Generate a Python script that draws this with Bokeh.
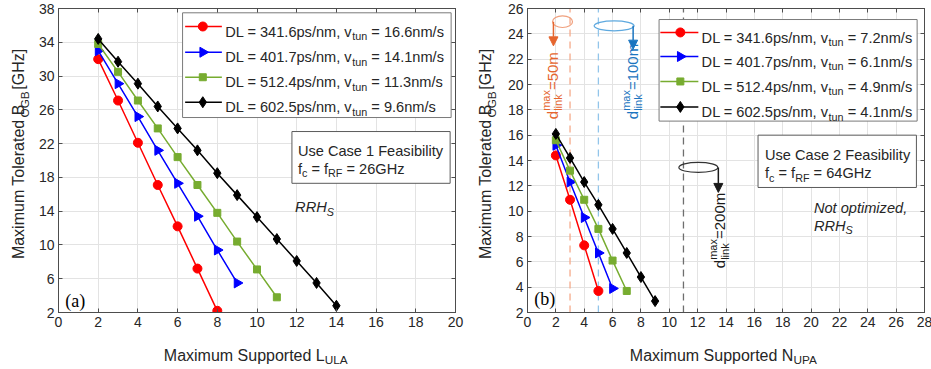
import numpy as np
from bokeh.plotting import figure
from bokeh.models import Label, Arrow, NormalHead, Range1d, FixedTicker, LinearAxis
from bokeh.layouts import row, column
from bokeh.embed import file_html
from bokeh.resources import INLINE

# ---------------- data ----------------
# (a) Use case 1
L_ula_341 = [2, 3, 4, 5, 6, 7, 8]
B_ogb_341 = [32.0, 27.1, 22.1, 17.1, 12.2, 7.2, 2.2]
L_ula_401 = [2, 3, 4, 5, 6, 7, 8, 9]
B_ogb_401 = [33.0, 29.1, 25.2, 21.2, 17.3, 13.4, 9.4, 5.5]
L_ula_512 = [2, 3, 4, 5, 6, 7, 8, 9, 10, 11]
B_ogb_512 = [33.8, 30.5, 27.1, 23.8, 20.4, 17.1, 13.8, 10.4, 7.1, 3.8]
L_ula_602 = [2, 3, 4, 5, 6, 7, 8, 9, 10, 11, 12, 13, 14]
B_ogb_602 = [34.4, 31.7, 29.1, 26.4, 23.8, 21.2, 18.5, 15.9, 13.3, 10.7, 8.1, 5.5, 2.8]

# (b) Use case 2
N_upa_341 = [2, 3, 4, 5]
Bb_ogb_341 = [14.4, 10.9, 7.3, 3.7]
N_upa_401 = [2, 3, 4, 5, 6]
Bb_ogb_401 = [15.2, 12.3, 9.5, 6.7, 3.9]
N_upa_512 = [2, 3, 4, 5, 6, 7]
Bb_ogb_512 = [15.6, 13.2, 10.9, 8.6, 6.1, 3.7]
N_upa_602 = [2, 3, 4, 5, 6, 7, 8, 9]
Bb_ogb_602 = [16.1, 14.2, 12.3, 10.5, 8.6, 6.7, 4.8, 2.9]

DL = ["341.6", "401.7", "512.4", "602.5"]
vtun_a = ["16.6", "14.1", "11.3", "9.6"]
vtun_b = ["7.2", "6.1", "4.9", "4.1"]

# d_link^max thresholds (N_UPA)
dlink_x = [3, 5, 11]
dlink_txt = ["=50m", "=100m", "=200m"]

xticks_a = list(range(0, 21, 2))
yticks_a = list(range(2, 39, 4))
xticks_b = list(range(0, 29, 2))
yticks_b = list(range(2, 27, 2))

# ---------------- styles ----------------
COLORS = ["#FF0000", "#0000FF", "#77AC30", "#000000"]
MARKERS = ["circle", "triangle", "square", "diamond"]
MSIZE = [9, 10, 7, 11]
MANGLE = [0, -np.pi / 2, 0, 0]
FONT = "Liberation Sans"
TXT = "#262626"
AXC = "#4d4d4d"

W = {' ': 278, ',': 278, '.': 278, '/': 278, '=': 584, '[': 278, ']': 278, '(': 333, ')': 333,
     'A': 667, 'B': 667, 'C': 722, 'D': 722, 'F': 611, 'G': 778, 'H': 722, 'L': 556, 'M': 833,
     'N': 722, 'O': 778, 'P': 667, 'R': 722, 'S': 667, 'T': 611, 'U': 722,
     'a': 556, 'b': 556, 'c': 500, 'd': 556, 'e': 556, 'f': 278, 'i': 222, 'k': 500, 'l': 222,
     'm': 833, 'n': 556, 'o': 556, 'p': 556, 'r': 333, 's': 500, 't': 278, 'u': 556, 'v': 500,
     'x': 500, 'y': 500, 'z': 500}


def tw(s, size):
    return sum(W.get(ch, 556) for ch in s) * size / 1000.0


def rich(p, x, y, pieces, size, ppx, ppy, color=TXT, style="normal", vertical=False, subsize=None):
    """pieces: list of (text, kind[, advance]); kind in n/sub/sup.
    (x, y) is the baseline start of the text."""
    sub = subsize if subsize else size * 0.74
    pos = 0.0
    pending = 0.0
    for pc in pieces:
        text, kind = pc[0], pc[1]
        adv = pc[2] if len(pc) > 2 else True
        if kind == "n":
            fs, shift = size, 0.0
        elif kind == "sub":
            fs, shift = sub, -0.30 * size
        else:
            fs, shift = sub, 0.48 * size
        lead = len(text) - len(text.lstrip(" "))
        trail = len(text) - len(text.rstrip(" "))
        core = text.strip(" ")
        pos += lead * 278 * fs / 1000.0
        if vertical:
            lx = x - (shift + 0.35 * fs) / ppx
            ly = y + pos / ppy
            ang, base = np.pi / 2, "middle"
        else:
            lx, ly, ang, base = x + pos / ppx, y + shift / ppy, 0, "alphabetic"
        p.add_layout(Label(x=lx, y=ly, text=core, angle=ang, text_font=FONT,
                           text_font_size=f"{fs:.1f}px", text_color=color,
                           text_font_style=style, text_align="left",
                           text_baseline=base))
        w = tw(core, fs) + trail * 278 * fs / 1000.0
        if adv:
            pos += max(w, pending)
            pending = 0.0
        else:
            pending = w


def style_axis(ax):
    ax.major_tick_in = 4
    ax.major_tick_out = 0
    ax.minor_tick_line_color = None
    ax.axis_line_color = AXC
    ax.major_tick_line_color = AXC
    ax.major_label_text_font = FONT
    ax.major_label_text_font_size = "14px"
    ax.major_label_text_color = TXT
    ax.major_label_standoff = 4


def base_fig(xr, yr, fw, fh, bl, br, xt, yt):
    p = figure(x_range=Range1d(*xr), y_range=Range1d(*yr), frame_width=fw, frame_height=fh,
               min_border_left=bl, min_border_right=br, min_border_top=8, min_border_bottom=24,
               output_backend="svg", toolbar_location=None, background_fill_color="white",
               border_fill_color="white")
    p.xaxis.ticker = FixedTicker(ticks=xt)
    p.yaxis.ticker = FixedTicker(ticks=yt)
    for ax in (p.xaxis, p.yaxis):
        style_axis(ax)
    # box ticks on top and right (no labels)
    top = LinearAxis(ticker=FixedTicker(ticks=xt), major_label_overrides={t: "" for t in xt})
    right = LinearAxis(ticker=FixedTicker(ticks=yt), major_label_overrides={t: "" for t in yt})
    for ax in (top, right):
        style_axis(ax)
        ax.major_label_standoff = 0
    p.add_layout(top, "above")
    p.add_layout(right, "right")
    p.grid.grid_line_color = "#e3e3e3"
    p.outline_line_color = AXC
    return p


def label_fig(w, h):
    f = figure(width=w, height=h, x_range=Range1d(0, w), y_range=Range1d(0, h),
               x_axis_location=None, y_axis_location=None, min_border=0,
               min_border_left=0, min_border_right=0, min_border_top=0, min_border_bottom=0,
               output_backend="svg", toolbar_location=None, outline_line_color=None,
               background_fill_color="white", border_fill_color="white")
    f.grid.visible = False
    return f


FW, FH = 397, 304
PH = 8 + FH + 24      # main figure height
XLH = 369 - PH        # x-label strip height
YLW = 34              # y-label strip width

# ---------------- (a) ----------------
p1 = base_fig((0, 20), (2, 38), FW, FH, 24, 15, xticks_a, yticks_a)
ppx1, ppy1 = FW / 20.0, FH / 36.0

series_a = [(L_ula_341, B_ogb_341), (L_ula_401, B_ogb_401), (L_ula_512, B_ogb_512), (L_ula_602, B_ogb_602)]
for i, (xs, ys) in enumerate(series_a):
    p1.line(xs, ys, line_color=COLORS[i], line_width=1.5)
    p1.scatter(xs, ys, marker=MARKERS[i], size=MSIZE[i], angle=MANGLE[i],
               fill_color=COLORS[i], line_color=COLORS[i])

# legend (a)
p1.quad(left=[6.25], right=[19.78], bottom=[25.09], top=[37.49], fill_color="white",
        line_color="#7a7a7a", line_width=1)
rows_a = [35.87, 32.82, 29.86, 26.90]
for i, ry in enumerate(rows_a):
    p1.segment(x0=[6.38], y0=[ry], x1=[8.23], y1=[ry], line_color=COLORS[i], line_width=1.5)
    p1.scatter([7.27], [ry], marker=MARKERS[i], size=MSIZE[i], angle=MANGLE[i],
               fill_color=COLORS[i], line_color=COLORS[i])
    rich(p1, 8.40, ry - 5.2 / ppy1,
         [(f"DL = {DL[i]}ps/nm, v", "n"), ("tun", "sub"), (f" = {vtun_a[i]}nm/s", "n")],
         14.6, ppx1, ppy1)

# use case box (a)
p1.quad(left=[11.76], right=[19.73], bottom=[17.30], top=[23.43], fill_color="white",
        line_color="#5a5a5a", line_width=1)
rich(p1, 12.06, 21.12, [("Use Case 1 Feasibility", "n")], 14.6, ppx1, ppy1)
rich(p1, 12.06, 18.98, [("f", "n"), ("c", "sub"), (" = f", "n"), ("RF", "sub"), (" = 26GHz", "n")],
     14.6, ppx1, ppy1)
rich(p1, 11.92, 14.46, [("RRH", "n"), ("S", "sub")], 14.6, ppx1, ppy1, style="italic")
p1.add_layout(Label(x=0.34, y=3.4, text="(a)", text_font="Liberation Serif", text_font_size="18px",
                    text_color="#000000", text_baseline="alphabetic"))

yl1 = label_fig(YLW, PH)
rich(yl1, 24, PH - 277, [("Maximum Tolerated B", "n"), ("OGB", "sub"), (" [GHz]", "n")],
     16, 1, 1, vertical=True)
xl1 = label_fig(YLW + FW + 24 + 15, XLH)
rich(xl1, 163.3, 369 - 355, [("Maximum Supported L", "n"), ("ULA", "sub")], 16, 1, 1)

# ---------------- (b) ----------------
p2 = base_fig((0, 28), (2, 26), FW, FH, 21, 9, xticks_b, yticks_b)
ppx2, ppy2 = FW / 28.0, FH / 24.0

dash_cols = ["#F5AA8A", "#92C5EA", "#6e6e6e"]
for k, xv in enumerate(dlink_x):
    p2.segment(x0=[xv], y0=[2], x1=[xv], y1=[26], line_color=dash_cols[k], line_width=1.3,
               line_dash="7 5")

series_b = [(N_upa_341, Bb_ogb_341), (N_upa_401, Bb_ogb_401), (N_upa_512, Bb_ogb_512), (N_upa_602, Bb_ogb_602)]
for i, (xs, ys) in enumerate(series_b):
    p2.line(xs, ys, line_color=COLORS[i], line_width=1.5)
    p2.scatter(xs, ys, marker=MARKERS[i], size=MSIZE[i], angle=MANGLE[i],
               fill_color=COLORS[i], line_color=COLORS[i])

# legend (b)
p2.quad(left=[9.28], right=[27.48], bottom=[17.11], top=[25.13], fill_color="white",
        line_color="#7a7a7a", line_width=1)
rows_b = [24.11, 22.21, 20.24, 18.23]
for i, ry in enumerate(rows_b):
    p2.segment(x0=[9.37], y0=[ry], x1=[12.05], y1=[ry], line_color=COLORS[i], line_width=1.5)
    p2.scatter([10.78], [ry], marker=MARKERS[i], size=MSIZE[i], angle=MANGLE[i],
               fill_color=COLORS[i], line_color=COLORS[i])
    rich(p2, 12.28, ry - 5.2 / ppy2,
         [(f"DL = {DL[i]}ps/nm, v", "n"), ("tun", "sub"), (f" = {vtun_b[i]}nm/s", "n")],
         14.6, ppx2, ppy2)

# use case box (b)
p2.quad(left=[16.26], right=[27.43], bottom=[11.87], top=[16.0], fill_color="white",
        line_color="#5a5a5a", line_width=1)
rich(p2, 16.75, 14.44, [("Use Case 2 Feasibility", "n")], 14.6, ppx2, ppy2)
rich(p2, 16.75, 13.0, [("f", "n"), ("c", "sub"), (" = f", "n"), ("RF", "sub"), (" = 64GHz", "n")],
     14.6, ppx2, ppy2)
rich(p2, 20.2, 10.28, [("Not optimized,", "n")], 14.6, ppx2, ppy2, style="italic")
rich(p2, 20.2, 8.84, [("RRH", "n"), ("S", "sub")], 14.6, ppx2, ppy2, style="italic")
p2.add_layout(Label(x=0.47, y=3.1, text="(b)", text_font="Liberation Serif", text_font_size="18px",
                    text_color="#000000", text_baseline="alphabetic"))

# d_link annotations
ell_cols = ["#F0A07E", "#5EA9DF", "#333333"]
txt_cols = ["#E5652E", "#1B75C0", "#1a1a1a"]
ell_x = [2.47, 6.11, 12.05]
ell_y = [24.96, 24.63, 13.45]
ell_w = [1.41, 2.82, 2.75]
ell_h = [0.92, 0.79, 0.79]
arr_x = [1.83, 7.45, 13.46]
arr_tip = [23.05, 22.79, 11.48]
txt_x = [2.11, 7.75, 13.88]
txt_y = [17.26, 17.26, 5.5]
for k in range(3):
    p2.ellipse(x=[ell_x[k]], y=[ell_y[k]], width=[ell_w[k]], height=[ell_h[k]],
               fill_color=None, line_color=ell_cols[k], line_width=1.2)
    p2.add_layout(Arrow(end=NormalHead(size=9, fill_color=txt_cols[k], line_color=txt_cols[k]),
                        x_start=arr_x[k], y_start=ell_y[k], x_end=arr_x[k], y_end=arr_tip[k],
                        line_color=txt_cols[k], line_width=1.5))
    rich(p2, txt_x[k], txt_y[k],
         [("d", "n"), ("max", "sup", False), ("link", "sub"), (dlink_txt[k], "n")],
         15, ppx2, ppy2, color=txt_cols[k], vertical=True, subsize=11)

yl2 = label_fig(YLW, PH)
rich(yl2, 21, PH - 277, [("Maximum Tolerated B", "n"), ("OGB", "sub"), (" [GHz]", "n")],
     16, 1, 1, vertical=True)
xl2 = label_fig(YLW + FW + 21 + 9, XLH)
rich(xl2, 629.3 - 470, 369 - 355, [("Maximum Supported N", "n"), ("UPA", "sub")], 16, 1, 1)

left_block = column(row(yl1, p1), xl1)
right_block = column(row(yl2, p2), xl2)
layout = row(left_block, right_block)
open("out.html", "w").write(file_html(layout, INLINE))
